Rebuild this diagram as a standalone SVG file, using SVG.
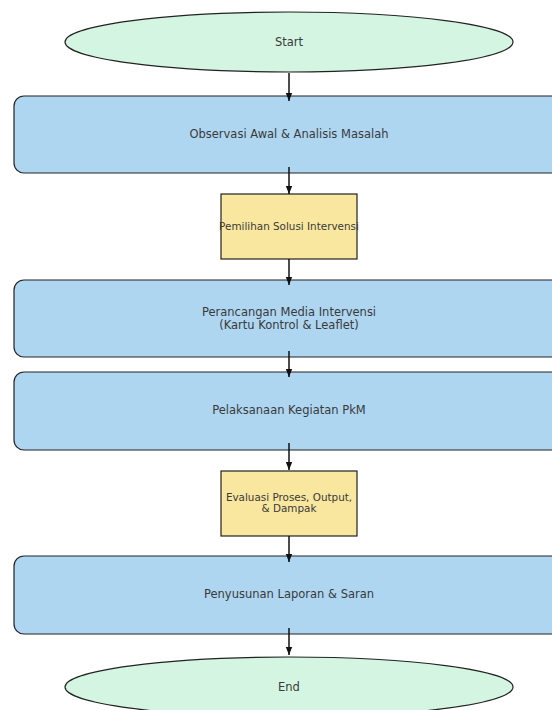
<svg xmlns="http://www.w3.org/2000/svg" width="552" height="710" viewBox="0 0 552 710">
<style>
.term{fill:#d4f5e2;stroke:#222;stroke-width:1.2}
.proc{fill:#aed6f1;stroke:#222;stroke-width:1.2}
.dec{fill:#f9e79f;stroke:#222;stroke-width:1.2}
text{font-family:"DejaVu Sans",sans-serif;fill:#3a3a3a;text-anchor:middle;dominant-baseline:central}
.t{font-size:11.5px}
.s{font-size:10.4px}
.c line{stroke:#111;stroke-width:1.5;marker-end:url(#ah)}
</style>
<defs>
<marker id="ah" viewBox="0 0 10 10" refX="10" refY="5" markerWidth="5.5" markerHeight="5.5" markerUnits="strokeWidth" orient="auto"><path d="M0,1 L10,5 L0,9 z" fill="#111"/></marker>
</defs>
<rect width="552" height="710" fill="#fff"/>
<g id="start"><ellipse class="term" cx="289" cy="42" rx="224" ry="30"/><text class="t" x="289" y="42">Start</text></g>
<g id="n1"><rect class="proc" x="14" y="96" width="550" height="77" rx="10"/><text class="t" x="289" y="134">Observasi Awal &amp; Analisis Masalah</text></g>
<g id="n2"><rect class="dec" x="221" y="194" width="136" height="65"/><text class="s" x="289" y="226">Pemilihan Solusi Intervensi</text></g>
<g id="n3"><rect class="proc" x="14" y="280" width="550" height="77" rx="10"/><text class="t" x="289" y="312">Perancangan Media Intervensi</text><text class="t" x="289" y="325">(Kartu Kontrol &amp; Leaflet)</text></g>
<g id="n4"><rect class="proc" x="14" y="372" width="550" height="78" rx="10"/><text class="t" x="289" y="410">Pelaksanaan Kegiatan PkM</text></g>
<g id="n5"><rect class="dec" x="221" y="471" width="136" height="65"/><text class="s" x="289" y="497">Evaluasi Proses, Output,</text><text class="s" x="289" y="508">&amp; Dampak</text></g>
<g id="n6"><rect class="proc" x="14" y="556" width="550" height="78" rx="10"/><text class="t" x="289" y="594">Penyusunan Laporan &amp; Saran</text></g>
<g id="end"><ellipse class="term" cx="289" cy="687" rx="224" ry="30"/><text class="t" x="289" y="687">End</text></g>
<g id="connectors" class="c">
<line x1="289" y1="73" x2="289" y2="101"/>
<line x1="289" y1="167" x2="289" y2="194"/>
<line x1="289" y1="259" x2="289" y2="285"/>
<line x1="289" y1="351" x2="289" y2="377"/>
<line x1="289" y1="443" x2="289" y2="470"/>
<line x1="289" y1="536" x2="289" y2="562"/>
<line x1="289" y1="628" x2="289" y2="655"/>
</g>
</svg>
